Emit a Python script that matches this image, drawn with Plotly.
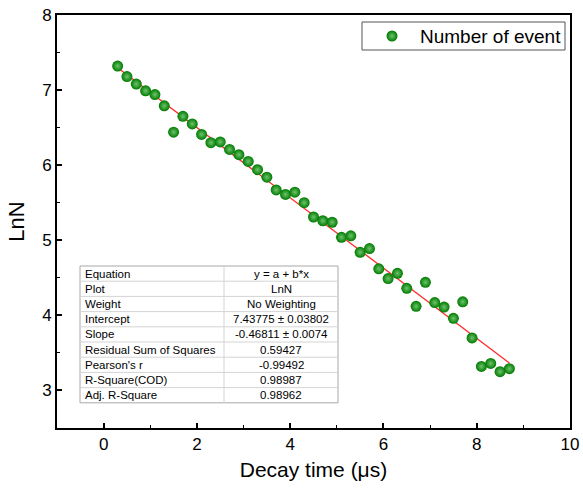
import plotly.graph_objects as go

# decay data
decay_time = [0.3, 0.5, 0.7, 0.9, 1.1, 1.3, 1.5, 1.7, 1.9, 2.1, 2.3, 2.5, 2.7, 2.9, 3.1,
              3.3, 3.5, 3.7, 3.9, 4.1, 4.3, 4.5, 4.7, 4.9, 5.1, 5.3, 5.5, 5.7, 5.9, 6.1,
              6.3, 6.5, 6.7, 6.9, 7.1, 7.3, 7.5, 7.7, 7.9, 8.1, 8.3, 8.5, 8.7]
ln_n = [7.32, 7.18, 7.08, 6.99, 6.94, 6.79, 6.44, 6.65, 6.55, 6.41, 6.30, 6.31, 6.21, 6.14, 6.05,
        5.94, 5.84, 5.67, 5.61, 5.64, 5.50, 5.31, 5.26, 5.24, 5.04, 5.06, 4.84, 4.89, 4.62, 4.49,
        4.56, 4.36, 4.12, 4.44, 4.17, 4.11, 3.96, 4.18, 3.70, 3.32, 3.36, 3.25, 3.29]

# linear fit results
intercept = 7.43775
slope = -0.46811
fit_x = [0.3, 8.7]
fit_y = [intercept + slope * x for x in fit_x]

series_name = "Number of event"
table_labels = ["Equation", "Plot", "Weight", "Intercept", "Slope",
                "Residual Sum of Squares", "Pearson's r", "R-Square(COD)", "Adj. R-Square"]
table_values = ["y = a + b*x", "LnN", "No Weighting", "7.43775 ± 0.03802", "-0.46811 ± 0.0074",
                "0.59427", "-0.99492", "0.98987", "0.98962"]

font_family = "Liberation Sans, Arial, sans-serif"

# figure fills the window (body margin removed in post_script below)
W, H = 583, 492
M_L, M_R, M_T, M_B = 57, 13, 15, 64
PW, PH = W - M_L - M_R, H - M_T - M_B


def px_x(px):
    # window pixel -> paper fraction
    return (px - M_L) / PW


def px_y(py):
    return 1 - (py - M_T) / PH


marker_style = {
    "size": 11,
    "color": "#007a00",
    "line": {"width": 0},
    "gradient": {"type": "radial", "color": "#6cc46c"},
}

fig = go.Figure()

fig.add_trace(go.Scatter(
    x=fit_x, y=fit_y, mode="lines",
    line={"color": "#ff2a2a", "width": 1.3},
    showlegend=False, hoverinfo="skip",
))

fig.add_trace(go.Scatter(
    x=decay_time, y=ln_n, mode="markers", name=series_name,
    marker=marker_style, showlegend=False,
))

# legend key drawn on a hidden overlay axis in paper units
fig.add_trace(go.Scatter(
    x=[px_x(392)], y=[px_y(36)], mode="markers", marker=marker_style,
    xaxis="x2", yaxis="y2", showlegend=False, hoverinfo="skip",
))

shapes = [dict(
    type="rect", xref="paper", yref="paper",
    x0=px_x(362), x1=px_x(565), y0=px_y(50), y1=px_y(22),
    fillcolor="white", line={"color": "#555555", "width": 1}, layer="below",
)]
annotations = [dict(
    xref="paper", yref="paper", x=px_x(418), y=px_y(36.5),
    text=series_name, showarrow=False, xanchor="left", yanchor="middle",
    font={"family": font_family, "size": 19, "color": "black"},
)]

# fit-results table drawn as shapes + annotations
tbl_left, tbl_mid, tbl_right = 80, 224, 338
tbl_top, row_h = 266, 15.2
n_rows = len(table_labels)
tbl_bottom = tbl_top + n_rows * row_h

shapes.append(dict(
    type="rect", xref="paper", yref="paper",
    x0=px_x(tbl_left), x1=px_x(tbl_right), y0=px_y(tbl_bottom), y1=px_y(tbl_top),
    fillcolor="white", line={"color": "#a8a8a8", "width": 1}, layer="above",
))
for i in range(1, n_rows):
    yy = px_y(tbl_top + i * row_h)
    shapes.append(dict(
        type="line", xref="paper", yref="paper",
        x0=px_x(tbl_left), x1=px_x(tbl_right), y0=yy, y1=yy,
        line={"color": "#d4d4d4", "width": 1}, layer="above",
    ))
shapes.append(dict(
    type="line", xref="paper", yref="paper",
    x0=px_x(tbl_mid), x1=px_x(tbl_mid), y0=px_y(tbl_bottom), y1=px_y(tbl_top),
    line={"color": "#d4d4d4", "width": 1}, layer="above",
))

for i, (lab, val) in enumerate(zip(table_labels, table_values)):
    yc = px_y(tbl_top + (i + 0.5) * row_h)
    annotations.append(dict(
        xref="paper", yref="paper", x=px_x(tbl_left + 3), y=yc,
        text=lab, showarrow=False, xanchor="left", yanchor="middle",
        font={"family": font_family, "size": 11.5, "color": "black"},
    ))
    annotations.append(dict(
        xref="paper", yref="paper", x=px_x((tbl_mid + tbl_right) / 2), y=yc,
        text=val, showarrow=False, xanchor="center", yanchor="middle",
        font={"family": font_family, "size": 11.5, "color": "black"},
    ))

axis_common = {
    "showline": True,
    "linecolor": "black",
    "linewidth": 1.6,
    "mirror": True,
    "showgrid": False,
    "zeroline": False,
    "automargin": False,
    "ticklabeloverflow": "allow",
    "ticks": "inside",
    "ticklen": 5,
    "tickwidth": 1.5,
    "tickcolor": "black",
    "tickfont": {"family": font_family, "size": 17, "color": "black"},
}

fig.update_xaxes(
    range=[-1, 10], dtick=2, tick0=0,
    minor={"dtick": 1, "ticks": "inside", "ticklen": 3, "tickcolor": "black", "tickwidth": 1.2},
    title={"text": "Decay time (μs)", "font": {"family": font_family, "size": 21, "color": "black"},
           "standoff": 9},
    **axis_common,
)
fig.update_yaxes(
    range=[2.5, 8], dtick=1, tick0=3,
    minor={"dtick": 0.5, "ticks": "inside", "ticklen": 3, "tickcolor": "black", "tickwidth": 1.2},
    title={"text": "LnN", "font": {"family": font_family, "size": 22, "color": "black"},
           "standoff": 12},
    **axis_common,
)

hidden = {"visible": False, "range": [0, 1], "fixedrange": True}
fig.update_layout(
    width=W,
    height=H,
    margin={"l": M_L, "r": M_R, "t": M_T, "b": M_B},
    paper_bgcolor="white",
    plot_bgcolor="white",
    shapes=shapes,
    annotations=annotations,
    showlegend=False,
    xaxis2={**hidden, "overlaying": "x"},
    yaxis2={**hidden, "overlaying": "y"},
)

fig.write_html(
    "out.html",
    config={"displayModeBar": False},
    post_script="document.body.style.margin='0';document.body.style.overflow='hidden';",
)
